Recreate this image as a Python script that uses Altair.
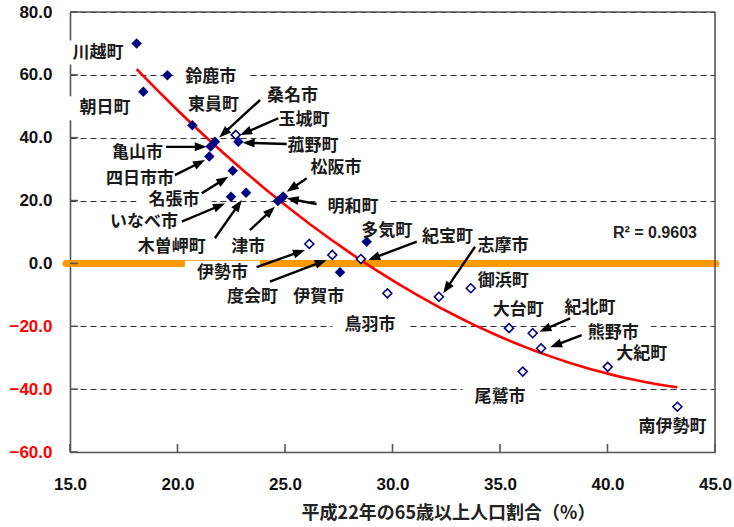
import math

import altair as alt
import pandas as pd

# --- data -----------------------------------------------------------------
names = ["川越町", "朝日町", "鈴鹿市", "東員町", "亀山市", "桑名市", "四日市市",
         "玉城町", "菰野町", "名張市", "いなべ市", "木曽岬町", "津市", "明和町",
         "松阪市", "伊勢市", "度会町", "伊賀市", "紀宝町", "多気町", "鳥羽市",
         "志摩市", "御浜町", "大台町", "紀北町", "熊野市", "尾鷲市", "大紀町",
         "南伊勢町"]
age65 = [18.10, 18.41, 19.53, 20.69, 21.54, 21.74, 21.48,
         22.71, 22.83, 22.57, 22.49, 23.19, 24.67, 24.84,
         24.91, 26.13, 27.20, 27.56, 28.53, 28.80, 29.76,
         32.16, 33.64, 35.42, 36.52, 36.91, 36.06, 40.01,
         43.25]
values = [70.0, 54.6, 59.9, 44.0, 37.2, 38.7, 34.0,
          40.9, 38.7, 29.5, 21.2, 22.5, 19.9, 20.7,
          21.3, 6.2, 2.7, -2.8, 1.4, 6.9, -9.5,
          -10.6, -7.9, -20.6, -22.2, -27.0, -34.4, -32.9,
          -45.6]
area = ["北中部", "北中部", "北中部", "北中部", "北中部", "北中部", "北中部",
        "南部", "北中部", "北中部", "北中部", "北中部", "北中部", "北中部",
        "北中部", "南部", "南部", "北中部", "南部", "北中部", "南部",
        "南部", "南部", "南部", "南部", "南部", "南部", "南部",
        "南部"]

x_ticks = [15, 20, 25, 30, 35, 40, 45]
y_ticks = [-60, -40, -20, 0, 20, 40, 60, 80]
r2_text = "R² = 0.9603"

# --- annotation layout: label centre, optional arrow (tail, tip) ----------
label_layout = {
    "川越町": (16.30, 67.1, None),
    "朝日町": (16.63, 49.4, None),
    "鈴鹿市": (21.55, 59.2, None),
    "東員町": (21.67, 50.4, None),
    "亀山市": (18.14, 35.0, ((19.47, 37.1), (21.36, 37.1))),
    "桑名市": (25.35, 53.2, ((23.84, 52.0), (21.94, 40.1))),
    "四日市市": (18.26, 26.9, ((19.88, 28.1), (21.28, 32.9))),
    "玉城町": (25.88, 45.6, ((24.69, 46.2), (22.91, 40.9))),
    "菰野町": (26.30, 37.5, ((25.08, 38.0), (23.03, 38.4))),
    "名張市": (19.84, 20.2, ((21.13, 22.3), (22.36, 27.6))),
    "いなべ市": (18.44, 13.3, ((20.20, 13.3), (22.21, 19.1))),
    "木曽岬町": (19.73, 5.3, ((21.74, 8.0), (22.99, 20.2))),
    "津市": (23.29, 5.3, ((23.37, 10.6), (24.53, 18.0))),
    "明和町": (28.16, 18.05, ((26.47, 18.9), (25.08, 20.7))),
    "松阪市": (27.37, 30.3, ((26.01, 27.1), (25.08, 22.8))),
    "伊勢市": (22.09, -2.95, ((23.68, -1.2), (25.93, 4.3))),
    "度会町": (23.49, -10.6, ((24.30, -5.8), (26.94, 1.1))),
    "伊賀市": (26.57, -10.6, None),
    "紀宝町": (32.56, 8.3, ((31.13, 6.9), (28.87, 1.1))),
    "多気町": (29.73, 10.3, None),
    "鳥羽市": (28.95, -19.6, None),
    "志摩市": (35.14, 5.55, ((33.84, 5.3), (32.36, -9.5))),
    "御浜町": (35.15, -5.5, None),
    "大台町": (35.85, -14.8, None),
    "紀北町": (39.19, -14.3, ((38.26, -17.5), (36.83, -21.7))),
    "熊野市": (40.27, -22.0, ((38.80, -22.8), (37.33, -26.7))),
    "尾鷲市": (35.00, -42.4, None),
    "大紀町": (41.59, -28.9, None),
    "南伊勢町": (43.02, -51.9, None),
}

# --- geometry ---------------------------------------------------------------
W, H = 645, 440
X_DOM = [15, 45]
Y_DOM = [-60, 80]
KX = W / (X_DOM[1] - X_DOM[0])
KY = H / (Y_DOM[1] - Y_DOM[0])
FONT_JP = "Noto Sans CJK JP"
FONT_NUM = "Liberation Sans"
LABEL_SIZE = 17
NAVY = "#000080"
AXIS_GREY = "#555555"

xs = alt.Scale(domain=X_DOM, nice=False, zero=False)
ys = alt.Scale(domain=Y_DOM, nice=False, zero=False)

pts = pd.DataFrame({"name": names, "age": age65, "val": values, "area": area})

# label table, white boxes behind labels, arrows
lab_rows, box_rows, arrow_rows = [], [], []
HEAD_R = 6.0
for n in names:
    lx, ly, arrow = label_layout[n]
    lab_rows.append({"name": n, "lx": lx, "ly": ly})
    hw = (len(n) * LABEL_SIZE + 24) / 2
    hh = 12
    box_rows.append({"bx1": lx - hw / KX, "bx2": lx + hw / KX,
                     "by1": ly - hh / KY, "by2": ly + hh / KY})
    if arrow:
        (tx, ty), (ex, ey) = arrow
        dx = (ex - tx) * KX
        dy = -(ey - ty) * KY
        L = math.hypot(dx, dy)
        ux, uy = dx / L, dy / L
        cx = ex - ux * HEAD_R / KX
        cy = ey + uy * HEAD_R / KY
        ang = math.degrees(math.atan2(ux, -uy)) % 360
        arrow_rows.append({"tx": tx, "ty": ty, "cx": cx, "cy": cy, "ang": ang})

labels_df = pd.DataFrame(lab_rows)
boxes_df = pd.DataFrame(box_rows)
arrows_df = pd.DataFrame(arrow_rows)

X_TITLE = "平成22年の65歳以上人口割合（%）"

x_axis = alt.Axis(
    values=x_ticks, format=".1f", grid=False, ticks=False,
    labelPadding=24, labelFont=FONT_NUM, labelFontSize=17, labelFontWeight="bold",
    labelColor="#111111", labelFlush=False, labelOverlap=False,
    domainColor=AXIS_GREY, domainWidth=1.6,
    titleFont=FONT_JP, titleFontSize=18,
    titleFontWeight="bold", titleColor="#222222", titleX=378, titleY=61,
    titleAlign="center", titleBaseline="middle",
)
y_axis = alt.Axis(
    values=y_ticks, format=".1f", grid=True, gridDash=[6, 4], gridColor="#333333",
    gridWidth=1, ticks=False, labelPadding=18, labelFont=FONT_NUM,
    labelFontSize=17, labelFontWeight="bold", labelFlush=False, labelOverlap=False,
    labelColor=alt.condition("datum.value < 0", alt.value("#ff0000"), alt.value("#111111")),
    domainColor=AXIS_GREY, domainWidth=1.6,
)


def qx(field):
    return alt.X(field, type="quantitative", scale=xs, axis=x_axis, title=X_TITLE)


def qy(field):
    return alt.Y(field, type="quantitative", scale=ys, axis=y_axis, title=None)


# zero reference line
zero_df = pd.DataFrame({"v": [0]})
zero_line = alt.Chart(zero_df).mark_rule(
    color="#FF9900", strokeWidth=7, strokeCap="round"
).encode(y=qy("v"), x=alt.value(-4), x2=alt.value(W + 1))

# white backgrounds of the labels
boxes = alt.Chart(boxes_df).mark_rect(color="white").encode(
    x=qx("bx1"), x2="bx2", y=qy("by1"), y2="by2"
)

# polynomial trend line
trend = alt.Chart(pts).transform_regression(
    "age", "val", method="poly", order=2
).mark_line(color="#ff0000", strokeWidth=2.6).encode(x=qx("age"), y=qy("val"))

# arrows
shafts = alt.Chart(arrows_df).mark_rule(color="black", strokeWidth=2.4).encode(
    x=qx("tx"), y=qy("ty"), x2="cx", y2="cy"
)
heads = alt.Chart(arrows_df).mark_point(
    shape="M0,-1L0.75,1L-0.75,1Z", filled=True, color="black", size=144, opacity=1
).encode(x=qx("cx"), y=qy("cy"), angle=alt.Angle("ang:Q", scale=None))

# markers
open_pts = alt.Chart(pts).transform_filter("datum.area == '南部'").mark_point(
    shape="diamond", filled=True, fill="white", stroke=NAVY, strokeWidth=1.6,
    size=80, opacity=1
).encode(x=qx("age"), y=qy("val"))
filled_pts = alt.Chart(pts).transform_filter("datum.area != '南部'").mark_point(
    shape="diamond", filled=True, color=NAVY, size=110, opacity=1
).encode(x=qx("age"), y=qy("val"))

# municipality names
labels = alt.Chart(labels_df).mark_text(
    font=FONT_JP, fontSize=LABEL_SIZE, fontWeight="bold", color="#1a1a1a",
    align="center", baseline="middle"
).encode(x=qx("lx"), y=qy("ly"), text="name:N")

# R² annotation
r2_df = pd.DataFrame({"t": [r2_text], "x": [44.16], "y": [9.8]})
r2 = alt.Chart(r2_df).mark_text(
    font=FONT_NUM, fontSize=16, fontWeight="bold", color="#222222",
    align="right", baseline="middle"
).encode(x=qx("x"), y=qy("y"), text="t:N")

# inward tick marks and the top/right frame
yt_df = pd.DataFrame({"v": y_ticks})
xt_df = pd.DataFrame({"v": x_ticks})
y_tick_marks = alt.Chart(yt_df).mark_rule(color=AXIS_GREY, strokeWidth=1.6).encode(
    y=qy("v"), x=alt.value(0), x2=alt.value(8)
)
x_tick_marks = alt.Chart(xt_df).mark_rule(color=AXIS_GREY, strokeWidth=1.6).encode(
    x=qx("v"), y=alt.value(H), y2=alt.value(H - 8)
)
frame_df = pd.DataFrame({"k": [0]})
frame_right = alt.Chart(frame_df).mark_rule(color=AXIS_GREY, strokeWidth=1.6).encode(
    x=alt.value(W), y=alt.value(0), y2=alt.value(H)
)
frame_top = alt.Chart(frame_df).mark_rule(color=AXIS_GREY, strokeWidth=1.6).encode(
    y=alt.value(0), x=alt.value(0), x2=alt.value(W)
)

chart = alt.layer(
    zero_line, boxes, trend, shafts, heads, open_pts, filled_pts, labels, r2,
    y_tick_marks, x_tick_marks, frame_right, frame_top,
).properties(
    width=W, height=H,
    autosize=alt.AutoSizeParams(type="none"),
    padding={"left": 70, "top": 12, "right": 19, "bottom": 75},
    background="white",
).configure_view(stroke=None)

chart.save("out.html", embed_options={"renderer": "svg", "actions": False})
